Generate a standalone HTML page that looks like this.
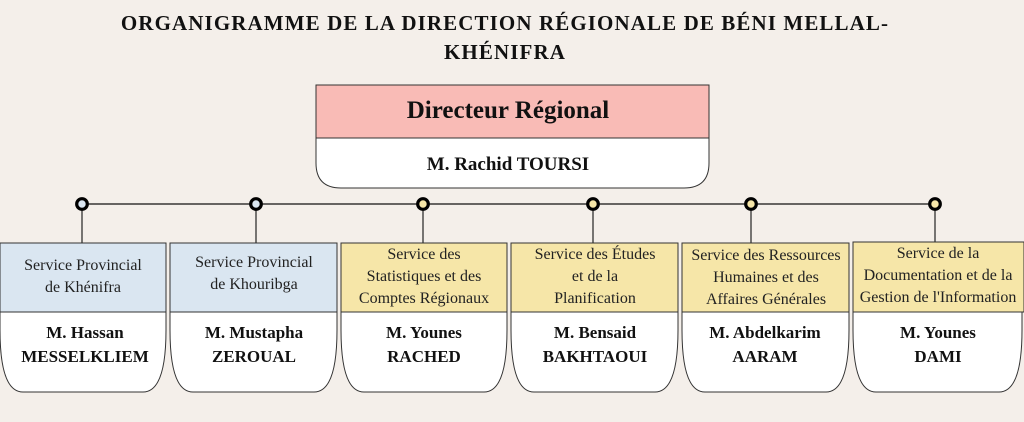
<!DOCTYPE html>
<html><head><meta charset="utf-8"><style>
html,body{margin:0;padding:0;background:#f4efea;}
svg{display:block;font-family:"Liberation Serif",serif;}
</style></head><body>
<svg width="1024" height="422" viewBox="0 0 1024 422" xmlns="http://www.w3.org/2000/svg">
<rect width="1024" height="422" fill="#f4efea"/>
<g font-weight="bold" font-size="21" text-anchor="middle" fill="#111" letter-spacing="1.1">
<text x="505" y="30">ORGANIGRAMME DE LA DIRECTION RÉGIONALE DE BÉNI MELLAL-</text>
<text x="505" y="59">KHÉNIFRA</text>
</g>
<path d="M316,138 L709,138 L709,163 Q709,188 684,188 L341,188 Q316,188 316,163 Z" fill="#fff" stroke="#333" stroke-width="1"/>
<rect x="316" y="85" width="393" height="53" fill="#f9bbb6" stroke="#333" stroke-width="1"/>
<text x="508" y="118" text-anchor="middle" font-weight="bold" font-size="25" fill="#111">Directeur Régional</text>
<text x="508" y="170" text-anchor="middle" font-weight="bold" font-size="19" fill="#111">M. Rachid TOURSI</text>
<line x1="82" y1="204" x2="934" y2="204" stroke="#111" stroke-width="1.2"/>
<g stroke="#222" stroke-width="1.2">
<line x1="82" y1="204" x2="82" y2="243"/><line x1="256" y1="204" x2="256" y2="243"/>
<line x1="423" y1="204" x2="423" y2="243"/><line x1="593" y1="204" x2="593" y2="243"/>
<line x1="751" y1="204" x2="751" y2="243"/><line x1="935" y1="204" x2="935" y2="243"/>
</g>
<g stroke="#000" stroke-width="3.2">
<circle cx="82" cy="204" r="5.3" fill="#dae6f1"/><circle cx="256" cy="204" r="5.3" fill="#dae6f1"/>
<circle cx="423" cy="204" r="5.3" fill="#f6e6a8"/><circle cx="593" cy="204" r="5.3" fill="#f6e6a8"/>
<circle cx="751" cy="204" r="5.3" fill="#f6e6a8"/><circle cx="935" cy="204" r="5.3" fill="#f6e6a8"/>
</g>
<g stroke="#333" stroke-width="1">
<path d="M0,312 L166,312 L166,330 C166,375 157,392 143,392 L23,392 C9,392 0,375 0,330 Z" fill="#fff"/>
<path d="M170,312 L337,312 L337,330 C337,375 328,392 314,392 L193,392 C179,392 170,375 170,330 Z" fill="#fff"/>
<path d="M341,312 L507,312 L507,330 C507,375 498,392 484,392 L364,392 C350,392 341,375 341,330 Z" fill="#fff"/>
<path d="M511,312 L678,312 L678,330 C678,375 669,392 655,392 L534,392 C520,392 511,375 511,330 Z" fill="#fff"/>
<path d="M682,312 L849,312 L849,330 C849,375 840,392 826,392 L705,392 C691,392 682,375 682,330 Z" fill="#fff"/>
<path d="M853,312 L1022,312 L1022,330 C1022,375 1013,392 999,392 L876,392 C862,392 853,375 853,330 Z" fill="#fff"/>
<rect x="0" y="243" width="166" height="69" fill="#dae6f1"/>
<rect x="170" y="243" width="167" height="69" fill="#dae6f1"/>
<rect x="341" y="243" width="166" height="69" fill="#f6e6a8"/>
<rect x="511" y="243" width="167" height="69" fill="#f6e6a8"/>
<rect x="682" y="243" width="167" height="69" fill="#f6e6a8"/>
<rect x="853" y="242" width="171" height="70" fill="#f6e6a8"/>
</g>
<g font-size="16" text-anchor="middle" fill="#222">
<text x="83" y="270">Service Provincial</text><text x="83" y="292">de Khénifra</text>
<text x="254" y="267">Service Provincial</text><text x="254" y="289">de Khouribga</text>
<text x="424" y="259">Service des</text><text x="424" y="281">Statistiques et des</text><text x="424" y="303">Comptes Régionaux</text>
<text x="595" y="259">Service des Études</text><text x="595" y="281">et de la</text><text x="595" y="303">Planification</text>
<text x="766" y="260">Service des Ressources</text><text x="766" y="282">Humaines et des</text><text x="766" y="304">Affaires Générales</text>
<text x="938" y="258">Service de la</text><text x="938" y="280">Documentation et de la</text><text x="938" y="302">Gestion de l'Information</text>
</g>
<g font-size="17" font-weight="bold" text-anchor="middle" fill="#111">
<text x="85" y="338">M. Hassan</text><text x="85" y="362">MESSELKLIEM</text>
<text x="254" y="338">M. Mustapha</text><text x="254" y="362">ZEROUAL</text>
<text x="424" y="338">M. Younes</text><text x="424" y="362">RACHED</text>
<text x="595" y="338">M. Bensaid</text><text x="595" y="362">BAKHTAOUI</text>
<text x="765" y="338">M. Abdelkarim</text><text x="765" y="362">AARAM</text>
<text x="938" y="338">M. Younes</text><text x="938" y="362">DAMI</text>
</g>
</svg>
</body></html>
